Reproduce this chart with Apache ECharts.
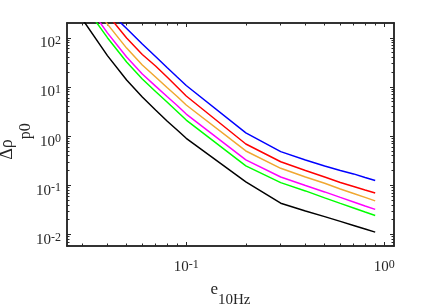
<!DOCTYPE html>
<html><head><meta charset="utf-8">
<script src="https://cdn.jsdelivr.net/npm/echarts@6/dist/echarts.min.js"></script>
<style>html,body{margin:0;padding:0;background:#fff}#c{width:436px;height:308px}</style>
</head><body><div id="c"></div>
<script>
// x values (e_10Hz)
const eValues = [0.03,0.04,0.05,0.06,0.07,0.08,0.09,0.1,0.2,0.3,0.4,0.5,0.6,0.7,0.8,0.9];
// Δρ_p0 for each curve
const blueVals    = [1125,366,155,74.5,41.5,24.8,15.9,10.7,1.16,0.482,0.327,0.247,0.200,0.170,0.144,0.125];
const redVals     = [1690,299,98.6,45.7,26.6,15.9,9.95,6.53,0.690,0.301,0.200,0.147,0.114,0.0944,0.0802,0.0697];
const orangeVals  = [957,190,61.7,27.9,15.9,9.72,6.38,4.29,0.498,0.221,0.147,0.110,0.0841,0.0681,0.0565,0.0480];
const magentaVals = [644,126,40.5,18.3,10.4,6.38,4.19,2.81,0.327,0.147,0.0991,0.0731,0.0565,0.0457,0.0379,0.0322];
const greenVals   = [507,100.5,32.1,14.5,8.05,4.93,3.16,2.12,0.247,0.113,0.0766,0.0552,0.0427,0.0345,0.0286,0.0243];
const blackVals   = [234,43.4,13.8,6.22,3.39,2.03,1.33,0.902,0.117,0.0431,0.0300,0.0230,0.0184,0.0152,0.0129,0.0111];

// tick values
const xMajorTicks = [0.1, 1];
const xMinorTicks = [0.03,0.04,0.05,0.06,0.07,0.08,0.09,0.2,0.3,0.4,0.5,0.6,0.7,0.8,0.9];
const yMajorTicks = [0.01, 0.1, 1, 10, 100];
const yMinorTicks = [0.006,0.007,0.008,0.009,0.02,0.03,0.04,0.05,0.06,0.07,0.08,0.09,
  0.2,0.3,0.4,0.5,0.6,0.7,0.8,0.9,2,3,4,5,6,7,8,9,20,30,40,50,60,70,80,90];

const xMin = 0.025, xMax = 1.12, yMin = 0.0058, yMax = 200;

const FONT = 'Liberation Serif';
const AX = '#262626';
const labelRich = {
  b: {fontFamily: FONT, fontSize: 15, color: AX, lineHeight: 16, verticalAlign: 'bottom'},
  s: {fontFamily: FONT, fontSize: 12, color: AX, lineHeight: 8, verticalAlign: 'top'}
};
function powLabel(v){ const e = Math.round(Math.log10(v)); return '{b|10}{s|' + e + '}'; }

function mkX(pos, ticks, len, labels){
  return {
    type: 'log', logBase: 10, min: xMin, max: xMax, position: pos,
    axisLine: {show: true, onZero: false, lineStyle: {color: AX, width: 1.5}},
    axisTick: {show: true, inside: true, length: len, customValues: ticks, lineStyle: {color: AX, width: 1}},
    axisLabel: labels ? {show: true, customValues: xMajorTicks, formatter: powLabel, rich: labelRich, margin: 13} : {show: false},
    splitLine: {show: false}, minorTick: {show: false}
  };
}
function mkY(pos, ticks, len, labels){
  return {
    type: 'log', logBase: 10, min: yMin, max: yMax, position: pos,
    axisLine: {show: true, onZero: false, lineStyle: {color: AX, width: 1.5}},
    axisTick: {show: true, inside: true, length: len, customValues: ticks, lineStyle: {color: AX, width: 1}},
    axisLabel: labels ? {show: true, customValues: yMajorTicks, formatter: powLabel, rich: labelRich, margin: 6, padding: [10,0,0,0]} : {show: false},
    splitLine: {show: false}, minorTick: {show: false}
  };
}

const xAxes = [mkX('bottom', xMajorTicks, 4, true), mkX('bottom', xMinorTicks, 2.5, false),
               mkX('top', xMajorTicks, 4, false), mkX('top', xMinorTicks, 2.5, false)];
const yAxes = [mkY('left', yMajorTicks, 4, true), mkY('left', yMinorTicks, 2.5, false),
               mkY('right', yMajorTicks, 4, false), mkY('right', yMinorTicks, 2.5, false)];

xAxes[0].name = '{e|e}{sub|10Hz}';
xAxes[0].nameLocation = 'middle';
xAxes[0].nameGap = 35;
xAxes[0].nameMoveOverlap = false;
xAxes[0].nameTextStyle = {rich: {
  e: {fontFamily: FONT, fontSize: 17, color: AX, lineHeight: 10, verticalAlign: 'top'},
  sub: {fontFamily: FONT, fontSize: 15, color: AX, lineHeight: 27, verticalAlign: 'bottom'}
}};
yAxes[0].name = '{d|\u0394\u03c1}{sub|p0}';
yAxes[0].nameLocation = 'middle';
yAxes[0].nameGap = 33;
yAxes[0].nameMoveOverlap = false;
yAxes[0].nameTextStyle = {padding: [0, 14, 0, 0], rich: {
  d: {fontFamily: FONT, fontSize: 18, color: AX, lineHeight: 10, verticalAlign: 'top'},
  sub: {fontFamily: FONT, fontSize: 16, color: AX, lineHeight: 36, verticalAlign: 'bottom'}
}};

const curves = [
  {vals: blackVals, color: '#000000'},
  {vals: greenVals, color: '#00ff00'},
  {vals: magentaVals, color: '#ff00ff'},
  {vals: orangeVals, color: '#f0a830'},
  {vals: redVals, color: '#ff0000'},
  {vals: blueVals, color: '#0000ff'}
];

const chart = echarts.init(document.getElementById('c'), null, {renderer: 'canvas'});
chart.setOption({
  animation: false,
  backgroundColor: '#ffffff',
  grid: {left: 67, right: 42, top: 23, bottom: 62, containLabel: false, outerBoundsMode: 'none'},
  xAxis: xAxes,
  yAxis: yAxes,
  series: curves.map(c => ({
    type: 'line', xAxisIndex: 0, yAxisIndex: 0, showSymbol: false, clip: true, silent: true,
    lineStyle: {color: c.color, width: 1.5},
    data: eValues.map((x, i) => [x, c.vals[i]])
  }))
});
</script></body></html>
